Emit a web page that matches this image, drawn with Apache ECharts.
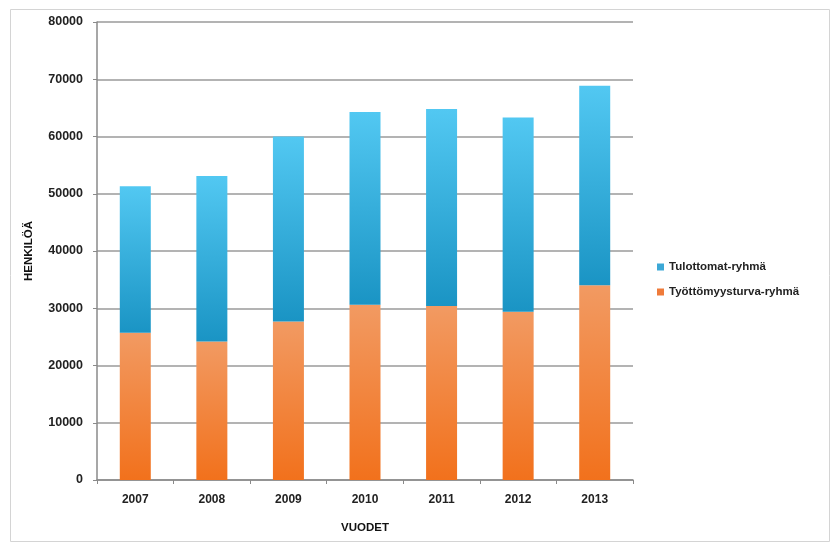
<!DOCTYPE html>
<html>
<head>
<meta charset="utf-8">
<script src="https://cdn.jsdelivr.net/npm/echarts@6/dist/echarts.min.js"></script>
<style>
html,body{margin:0;padding:0;background:#fff;}
#chart{width:833px;height:542px;}
</style>
</head>
<body>
<div id="chart"></div>
<script>
var years = ['2007','2008','2009','2010','2011','2012','2013'];
var tyottomyysturva = [25700, 24200, 27700, 30600, 30400, 29400, 34000];
var tulottomat = [25600, 28900, 32300, 33700, 34400, 33900, 34850];
var seriesNames = ['Tulottomat-ryhmä', 'Työttömyysturva-ryhmä'];
var yTicks = {min: 0, max: 80000, interval: 10000};

var chart = echarts.init(document.getElementById('chart'));
var G = echarts.graphic.LinearGradient;
chart.setOption({
  backgroundColor: '#fff',
  animation: false,
  graphic: [{
    type: 'rect', left: 8, top: 7, silent: true,
    shape: {width: 819, height: 532},
    style: {fill: 'none', stroke: '#d4d4d4', lineWidth: 1}
  }],
  grid: {left: 97, right: 200, top: 22, bottom: 62},
  legend: {
    orient: 'vertical', left: 652, top: 256, itemWidth: 7, itemHeight: 7, itemGap: 13,
    data: [
      {name: seriesNames[0], itemStyle: {color: '#3ca8d6'}},
      {name: seriesNames[1], itemStyle: {color: '#ef7b3a'}}
    ],
    textStyle: {fontSize: 11.5, color: '#222', fontFamily: 'Liberation Sans', fontWeight: 'bold'},
    icon: 'rect'
  },
  xAxis: {
    type: 'category', data: years,
    name: 'VUODET', nameLocation: 'middle', nameGap: 42,
    nameTextStyle: {fontSize: 11.5, fontWeight: 'bold', color: '#111', fontFamily: 'Liberation Sans'},
    axisLine: {lineStyle: {color: '#8a8a8a', width: 1.5}},
    axisTick: {show: true, alignWithLabel: false, length: 4, lineStyle: {color: '#8a8a8a'}},
    axisLabel: {fontSize: 12, color: '#222', margin: 14, fontFamily: 'Liberation Sans', fontWeight: 'bold'}
  },
  yAxis: {
    type: 'value', min: yTicks.min, max: yTicks.max, interval: yTicks.interval,
    name: 'HENKILÖÄ', nameLocation: 'middle', nameGap: 62, nameRotate: 90,
    nameTextStyle: {fontSize: 11.5, fontWeight: 'bold', color: '#111', fontFamily: 'Liberation Sans'},
    axisLine: {show: true, lineStyle: {color: '#8a8a8a', width: 1.5}},
    axisTick: {show: true, length: 4, lineStyle: {color: '#8a8a8a'}},
    axisLabel: {fontSize: 12.5, color: '#222', margin: 14, fontFamily: 'Liberation Sans', fontWeight: 'bold',
      formatter: function (v) { return String(v); }},
    splitLine: {lineStyle: {color: '#9a9a9a', width: 1.5}}
  },
  series: [
    {
      name: seriesNames[1], type: 'bar', stack: 's', data: tyottomyysturva, barWidth: 31,
      itemStyle: {color: new G(0, 0, 0, 1, [{offset: 0, color: '#f29a62'}, {offset: 1, color: '#f2711c'}])}
    },
    {
      name: seriesNames[0], type: 'bar', stack: 's', data: tulottomat, barWidth: 31,
      itemStyle: {color: new G(0, 0, 0, 1, [{offset: 0, color: '#52c8f2'}, {offset: 1, color: '#1a94c4'}])}
    }
  ]
});
</script>
</body>
</html>
